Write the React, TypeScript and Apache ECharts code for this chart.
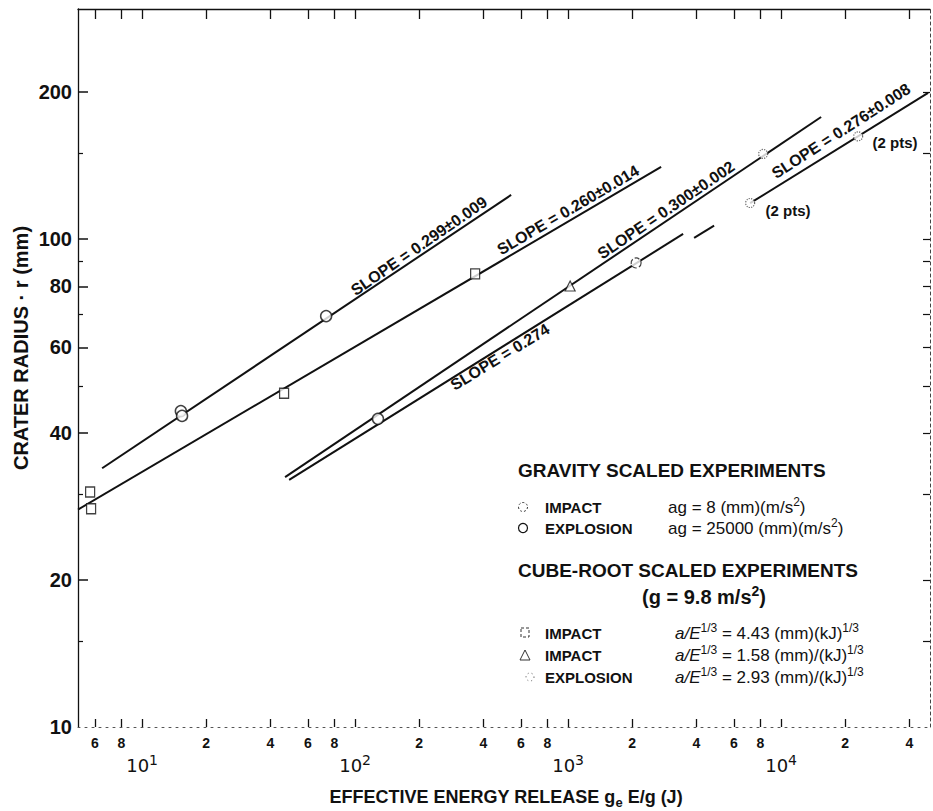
import React, { useEffect, useRef } from 'react';
import * as echarts from 'echarts';

// ---------- axis ticks / labels ----------
const xTickValues = [6, 8, 10, 20, 40, 60, 80, 100, 200, 400, 600, 800, 1000, 2000, 4000, 6000, 8000, 10000, 20000, 40000];
const xTickDigits = ['6', '8', '', '2', '4', '6', '8', '', '2', '4', '6', '8', '', '2', '4', '6', '8', '', '2', '4'];
const xDecadeValues = [10, 100, 1000, 10000];
const xDecadeExponents = ['1', '2', '3', '4'];
const yLabelValues = [10, 20, 40, 60, 80, 100, 200];
const yMajorTicks = [20, 40, 60, 80, 100, 200];
const yMinorTicks = [15, 30, 50, 70, 90, 150];
const yRightTicks = [15, 20, 30, 40, 50, 60, 70, 80, 90, 100, 150, 200];

// ---------- experiment points (E in J, r in mm) ----------
const gravExplosionE = [15.2, 15.4, 73.1, 128];
const gravExplosionR = [44.4, 43.4, 69.5, 42.8];
const gravImpactE = [2085];
const gravImpactR = [89.3];
const cubeImpactSquareE = [5.7, 5.76, 46.4, 366];
const cubeImpactSquareR = [30.3, 28.0, 48.3, 84.8];
const cubeImpactTriangleE = [1022];
const cubeImpactTriangleR = [80.1];
const cubeExplosionE = [7153, 8233, 22990];
const cubeExplosionR = [118.5, 149.4, 162.3];

// ---------- fitted lines ----------
const fit299E = [6.49, 540];
const fit299R = [33.9, 123.1];
const fit260E = [5.0, 2733];
const fit260R = [27.9, 140.5];
const fit300E = [46.9, 15410];
const fit300R = [32.5, 177.8];
const fit274E = [49.0, 3467];
const fit274R = [32.1, 102.4];
const fit276aE = [3904, 4847];
const fit276aR = [100.5, 106.5];
const fit276bE = [7153, 48980];
const fit276bR = [118.4, 199.2];

const FONT = '"Liberation Sans", Arial, sans-serif';
const INK = '#111';

const pairs = (xs: number[], ys: number[]) => xs.map((x, i) => [x, ys[i]]);

const digitFor = (v: number) => {
  const i = xTickValues.findIndex((t) => Math.abs(Math.log10(v / t)) < 1e-6);
  return i >= 0 ? xTickDigits[i] : '';
};
const expFor = (v: number) => {
  const i = xDecadeValues.findIndex((t) => Math.abs(Math.log10(v / t)) < 1e-6);
  return i >= 0 ? xDecadeExponents[i] : '';
};

const fitSeries = (xs: number[], ys: number[]) => ({
  type: 'line',
  xAxisIndex: 0,
  yAxisIndex: 0,
  data: pairs(xs, ys),
  showSymbol: false,
  symbol: 'none',
  silent: true,
  z: 2,
  lineStyle: { color: INK, width: 2 },
});

const pointSeries = (xs: number[], ys: number[], symbol: string, size: any, extra: any = {}) => ({
  type: 'scatter',
  xAxisIndex: 0,
  yAxisIndex: 0,
  data: pairs(xs, ys),
  symbol,
  symbolSize: size,
  z: 3,
  silent: true,
  itemStyle: { color: '#fff', borderColor: INK, borderWidth: 1.5, ...extra },
});

const logX = { type: 'log', logBase: 10, min: 5, max: 50000 };
const logY = { type: 'log', logBase: 10, min: 10, max: 296 };

const supRich = {
  n: { fontFamily: FONT, fontSize: 17, color: INK, lineHeight: 22 },
  i: { fontFamily: FONT, fontSize: 17, fontStyle: 'italic', color: INK, lineHeight: 22 },
  s: { fontFamily: FONT, fontSize: 12, color: INK, verticalAlign: 'top', lineHeight: 14 },
};

const text = (x: number, y: number, t: string, style: any = {}, extra: any = {}) => ({
  type: 'text',
  x,
  y,
  silent: true,
  ...extra,
  style: {
    text: t,
    fill: INK,
    fontFamily: FONT,
    fontSize: 16,
    fontWeight: 'bold',
    align: 'left',
    verticalAlign: 'middle',
    ...style,
  },
});

const slopeLabel = (x: number, y: number, deg: number, t: string) =>
  text(x, y, t, { fontSize: 16, align: 'center' }, { rotation: (deg * Math.PI) / 180 });

const option: any = {
  animation: false,
  backgroundColor: '#fff',
  grid: { left: 78, right: 3, top: 9, bottom: 84, containLabel: false, outerBoundsMode: 'none' },
  xAxis: [
    {
      ...logX,
      position: 'bottom',
      axisLine: { show: true, onZero: false, lineStyle: { color: '#555', width: 1, type: [2, 5] } },
      axisTick: { show: true, inside: true, length: 8, customValues: xTickValues, lineStyle: { color: INK, width: 1.3 } },
      axisLabel: {
        show: true,
        customValues: xTickValues,
        formatter: (v: number) => digitFor(v),
        margin: 9,
        fontFamily: FONT,
        fontWeight: 'bold',
        fontSize: 14,
        color: INK,
      },
      splitLine: { show: false },
    },
    {
      ...logX,
      position: 'bottom',
      axisLine: { show: false, onZero: false },
      axisTick: { show: false },
      axisLabel: {
        show: true,
        customValues: xDecadeValues,
        formatter: (v: number) => `{b|10}{s|${expFor(v)}}`,
        margin: 26,
        rich: {
          b: { fontFamily: '"DejaVu Sans", sans-serif', fontSize: 18, color: INK, lineHeight: 24 },
          s: { fontFamily: '"DejaVu Sans", sans-serif', fontSize: 14, color: INK, verticalAlign: 'top', lineHeight: 16 },
        },
      },
      splitLine: { show: false },
    },
    {
      ...logX,
      position: 'top',
      axisLine: { show: true, onZero: false, lineStyle: { color: INK, width: 1.3 } },
      axisTick: { show: true, inside: true, length: 10, customValues: xTickValues, lineStyle: { color: INK, width: 1.3 } },
      axisLabel: { show: false },
      splitLine: { show: false },
    },
  ],
  yAxis: [
    {
      ...logY,
      position: 'left',
      axisLine: { show: true, onZero: false, lineStyle: { color: INK, width: 1.3 } },
      axisTick: { show: true, inside: true, length: 10, customValues: yMajorTicks, lineStyle: { color: INK, width: 1.5 } },
      axisLabel: {
        show: true,
        customValues: yLabelValues,
        margin: 6,
        fontFamily: FONT,
        fontWeight: 'bold',
        fontSize: 20,
        color: INK,
      },
      splitLine: { show: false },
    },
    {
      ...logY,
      position: 'left',
      axisLine: { show: false, onZero: false },
      axisTick: { show: true, inside: true, length: 5, customValues: yMinorTicks, lineStyle: { color: INK, width: 1.2 } },
      axisLabel: { show: false },
      splitLine: { show: false },
    },
    {
      ...logY,
      position: 'right',
      axisLine: { show: true, onZero: false, lineStyle: { color: '#444', width: 1, type: [3, 3] } },
      axisTick: { show: true, inside: true, length: 7, customValues: yRightTicks, lineStyle: { color: INK, width: 1.2 } },
      axisLabel: { show: false },
      splitLine: { show: false },
    },
  ],
  series: [
    fitSeries(fit299E, fit299R),
    fitSeries(fit260E, fit260R),
    fitSeries(fit300E, fit300R),
    fitSeries(fit274E, fit274R),
    fitSeries(fit276aE, fit276aR),
    fitSeries(fit276bE, fit276bR),
    pointSeries(gravExplosionE, gravExplosionR, 'circle', 11),
    pointSeries(gravImpactE, gravImpactR, 'circle', 10, { borderType: 'dashed', borderWidth: 1.2 }),
    pointSeries(cubeImpactSquareE, cubeImpactSquareR, 'rect', [9, 10], { borderWidth: 1.3 }),
    pointSeries(cubeImpactTriangleE, cubeImpactTriangleR, 'triangle', 10, { borderWidth: 1.2 }),
    pointSeries(cubeExplosionE, cubeExplosionR, 'circle', 9, { borderType: 'dotted', borderWidth: 1.2, borderColor: '#444' }),
  ],
  graphic: [
    // axis titles
    text(21, 348, 'CRATER RADIUS · r (mm)', { fontSize: 20, align: 'center' }, { rotation: Math.PI / 2 }),
    text(506, 797, '{t|EFFECTIVE ENERGY RELEASE g}{u|e}{t| E/g (J)}', {
      align: 'center',
      rich: {
        t: { fontFamily: FONT, fontSize: 18, fontWeight: 'bold', color: INK, lineHeight: 24 },
        u: { fontFamily: FONT, fontSize: 13, fontWeight: 'bold', color: INK, verticalAlign: 'bottom', lineHeight: 16 },
      },
    }),
    // slope annotations
    slopeLabel(419, 246, 34.6, 'SLOPE = 0.299±0.009'),
    slopeLabel(568, 210, 30.3, 'SLOPE = 0.260±0.014'),
    slopeLabel(666, 210, 34.1, 'SLOPE = 0.300±0.002'),
    slopeLabel(500, 357, 31.4, 'SLOPE = 0.274'),
    slopeLabel(841, 131, 32.8, 'SLOPE = 0.276±0.008'),
    text(788, 210, '(2 pts)', { fontSize: 15, align: 'center' }),
    text(895, 142, '(2 pts)', { fontSize: 15, align: 'center' }),
    // legend
    text(518, 470, 'GRAVITY SCALED EXPERIMENTS', { fontSize: 19 }),
    { type: 'circle', silent: true, shape: { cx: 523, cy: 507, r: 4.5 }, style: { fill: '#fff', stroke: '#333', lineWidth: 1, lineDash: [2, 2] } },
    { type: 'circle', silent: true, shape: { cx: 523, cy: 528, r: 4.5 }, style: { fill: '#fff', stroke: INK, lineWidth: 1.2 } },
    text(545, 507, 'IMPACT', { fontSize: 15 }),
    text(545, 528, 'EXPLOSION', { fontSize: 15 }),
    text(668, 507, '{n|ag = 8 (mm)(m/s}{s|2}{n|)}', { rich: supRich }),
    text(668, 528, '{n|ag = 25000 (mm)(m/s}{s|2}{n|)}', { rich: supRich }),
    text(518, 570, 'CUBE-ROOT SCALED EXPERIMENTS', { fontSize: 19 }),
    text(704, 597, '{h|(g = 9.8 m/s}{k|2}{h|)}', {
      align: 'center',
      rich: {
        h: { fontFamily: FONT, fontSize: 20, fontWeight: 'bold', color: INK, lineHeight: 26 },
        k: { fontFamily: FONT, fontSize: 14, fontWeight: 'bold', color: INK, verticalAlign: 'top', lineHeight: 16 },
      },
    }),
    { type: 'rect', silent: true, shape: { x: 521, y: 628, width: 8, height: 9 }, style: { fill: '#fff', stroke: '#333', lineWidth: 1, lineDash: [3, 2] } },
    { type: 'polygon', silent: true, shape: { points: [[525, 650], [520, 660], [530, 660]] }, style: { fill: '#fff', stroke: '#333', lineWidth: 1 } },
    { type: 'circle', silent: true, shape: { cx: 530, cy: 677, r: 4 }, style: { fill: '#fff', stroke: '#555', lineWidth: 1, lineDash: [1, 3] } },
    text(545, 633, 'IMPACT', { fontSize: 15 }),
    text(545, 655, 'IMPACT', { fontSize: 15 }),
    text(545, 677, 'EXPLOSION', { fontSize: 15 }),
    text(675, 633, '{i|a/E}{s|1/3}{n| = 4.43 (mm)(kJ)}{s|1/3}', { rich: supRich }),
    text(675, 655, '{i|a/E}{s|1/3}{n| = 1.58 (mm)/(kJ)}{s|1/3}', { rich: supRich }),
    text(675, 677, '{i|a/E}{s|1/3}{n| = 2.93 (mm)/(kJ)}{s|1/3}', { rich: supRich }),
  ],
};

export default function App() {
  const ref = useRef<HTMLDivElement>(null);
  useEffect(() => {
    if (!ref.current) return;
    const chart = echarts.init(ref.current, null, { renderer: 'svg' });
    chart.setOption(option);
    return () => chart.dispose();
  }, []);
  return (
    <div
      ref={ref}
      style={{ position: 'absolute', left: 0, top: 0, width: 933, height: 811, background: '#fff' }}
    />
  );
}
